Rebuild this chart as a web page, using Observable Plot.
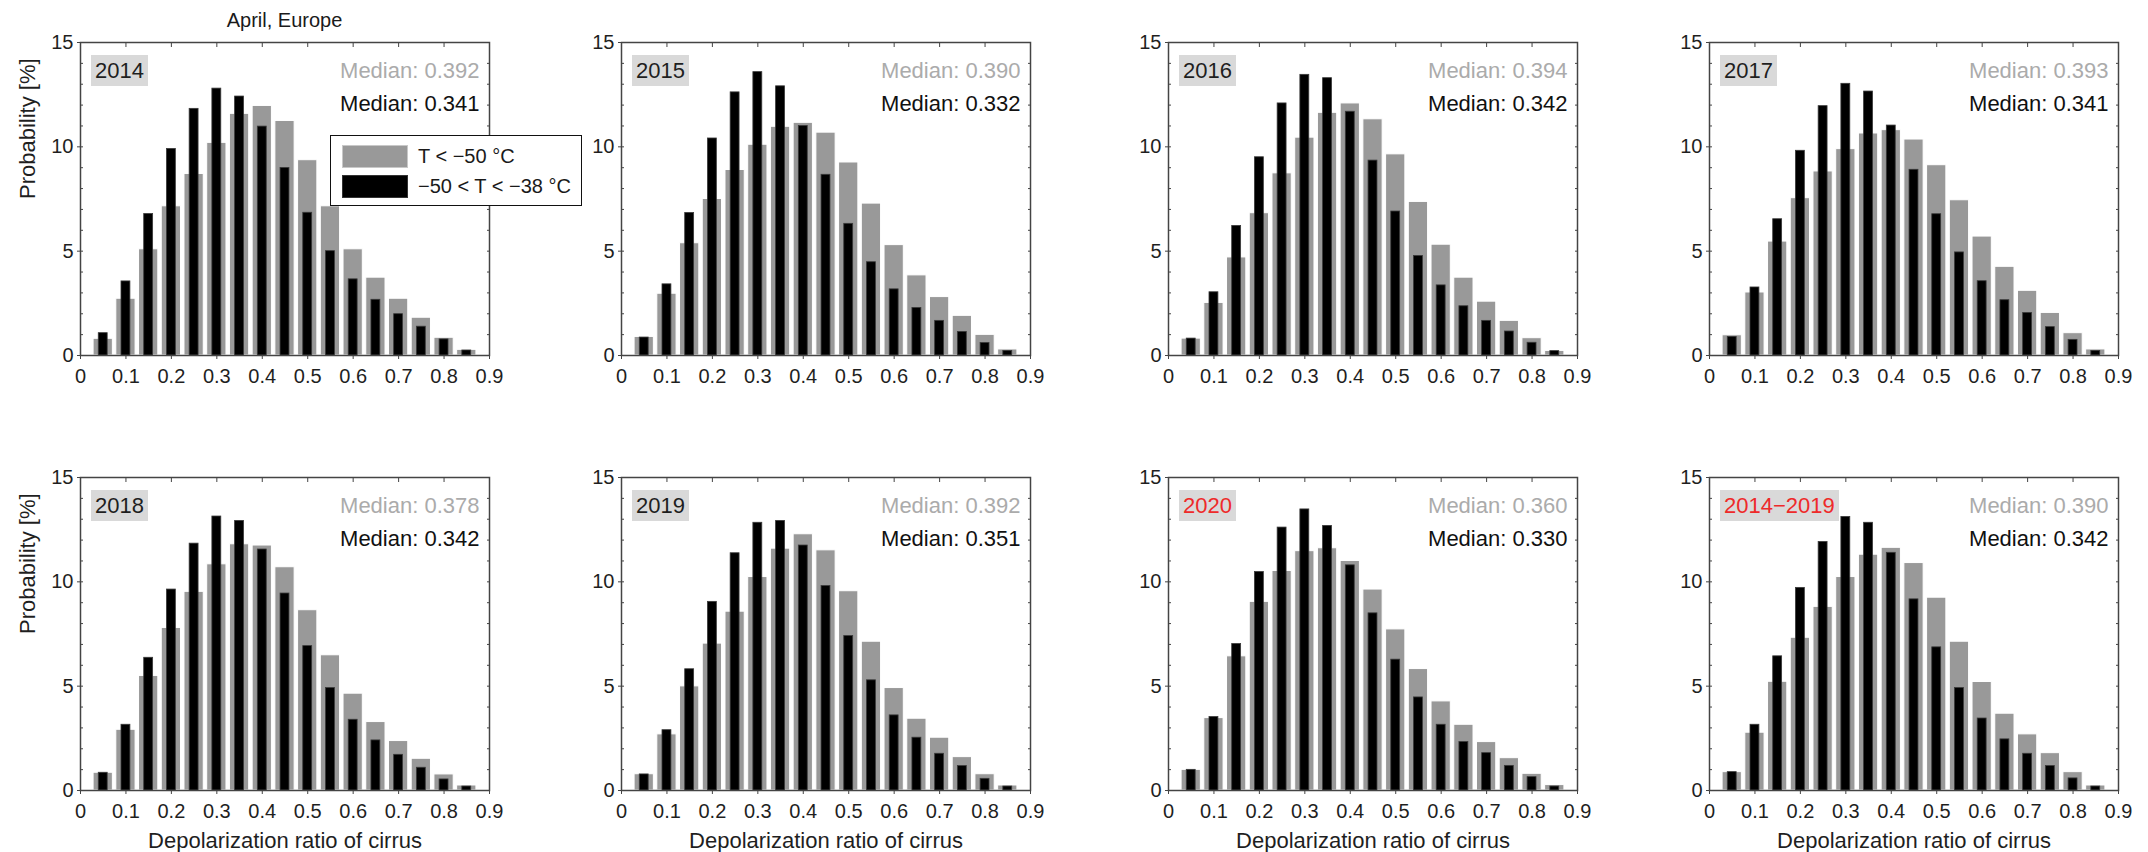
<!DOCTYPE html>
<html>
<head>
<meta charset="utf-8">
<script src="https://cdn.jsdelivr.net/npm/d3@7"></script>
<script src="https://cdn.jsdelivr.net/npm/@observablehq/plot@0.6"></script>
<style>
html, body { margin: 0; padding: 0; background: #fff; }
#root { position: relative; width: 2148px; height: 852px; overflow: hidden;
  font-family: "Liberation Sans", Arial, sans-serif; color: #1a1a1a; }
.abs { position: absolute; }
.yearbox { position: absolute; height: 31px; line-height: 31px; padding: 0 4px; font-size: 22px; background: #d9d9d9; white-space: nowrap; }
.legend { position: absolute; box-sizing: border-box; background: #fff; border: 1.5px solid #111; padding: 5px 11px; }
.legrow { display: flex; align-items: center; height: 30px; font-size: 20px; white-space: nowrap; }
.sw { width: 66px; height: 23px; margin-right: 10px; box-sizing: border-box; flex: none; }
</style>
</head>
<body>
<div id="root"></div>
<script>
// ---------- data ----------
const binCenters = [0.05, 0.10, 0.15, 0.20, 0.25, 0.30, 0.35, 0.40, 0.45, 0.50, 0.55, 0.60, 0.65, 0.70, 0.75, 0.80, 0.85];
const xTicks = [0, 0.1, 0.2, 0.3, 0.4, 0.5, 0.6, 0.7, 0.8, 0.9];
const yTicks = [0, 5, 10, 15];
const yMinorTicks = [0, 1, 2, 3, 4, 5, 6, 7, 8, 9, 10, 11, 12, 13, 14, 15];

const panelLabels = ["2014", "2015", "2016", "2017", "2018", "2019", "2020", "2014\u22122019"];
const labelIsRed = [false, false, false, false, false, false, true, true];
const medianCold = ["0.392", "0.390", "0.394", "0.393", "0.378", "0.392", "0.360", "0.390"];
const medianWarm = ["0.341", "0.332", "0.342", "0.341", "0.342", "0.351", "0.330", "0.342"];

// T < -50 °C (grey)
const cold2014 = [0.80, 2.72, 5.09, 7.15, 8.70, 10.19, 11.58, 11.96, 11.24, 9.36, 7.15, 5.09, 3.73, 2.72, 1.81, 0.85, 0.27];
const cold2015 = [0.89, 2.96, 5.38, 7.50, 8.89, 10.10, 10.96, 11.15, 10.68, 9.25, 7.28, 5.29, 3.84, 2.80, 1.90, 0.99, 0.29];
const cold2016 = [0.81, 2.52, 4.70, 6.82, 8.73, 10.44, 11.63, 12.08, 11.32, 9.64, 7.36, 5.31, 3.73, 2.58, 1.66, 0.83, 0.22];
const cold2017 = [0.97, 3.02, 5.46, 7.54, 8.82, 9.89, 10.64, 10.80, 10.35, 9.12, 7.44, 5.70, 4.25, 3.10, 2.04, 1.07, 0.29];
const cold2018 = [0.85, 2.91, 5.49, 7.79, 9.52, 10.84, 11.80, 11.74, 10.70, 8.64, 6.48, 4.64, 3.28, 2.37, 1.52, 0.77, 0.24];
const cold2019 = [0.78, 2.69, 4.99, 7.04, 8.57, 10.23, 11.59, 12.28, 11.51, 9.55, 7.13, 4.91, 3.44, 2.53, 1.60, 0.78, 0.24];
const cold2020 = [0.99, 3.47, 6.43, 9.04, 10.52, 11.47, 11.61, 11.00, 9.63, 7.72, 5.82, 4.27, 3.15, 2.32, 1.55, 0.80, 0.26];
const coldAll  = [0.88, 2.77, 5.21, 7.32, 8.80, 10.23, 11.30, 11.63, 10.90, 9.24, 7.13, 5.20, 3.68, 2.69, 1.79, 0.88, 0.24];

// -50 < T < -38 °C (black)
const warm2014 = [1.07, 3.55, 6.78, 9.90, 11.82, 12.79, 12.41, 10.97, 8.99, 6.84, 5.00, 3.65, 2.67, 1.98, 1.38, 0.77, 0.24];
const warm2015 = [0.86, 3.41, 6.83, 10.40, 12.61, 13.58, 12.90, 11.00, 8.66, 6.31, 4.47, 3.17, 2.28, 1.66, 1.13, 0.60, 0.22];
const warm2016 = [0.81, 3.03, 6.21, 9.50, 12.08, 13.45, 13.29, 11.68, 9.34, 6.90, 4.77, 3.36, 2.36, 1.66, 1.15, 0.61, 0.21];
const warm2017 = [0.89, 3.26, 6.53, 9.81, 11.95, 13.02, 12.65, 11.02, 8.90, 6.77, 4.94, 3.56, 2.65, 2.04, 1.36, 0.75, 0.22];
const warm2018 = [0.85, 3.15, 6.36, 9.63, 11.83, 13.13, 12.92, 11.55, 9.44, 6.92, 4.91, 3.39, 2.40, 1.71, 1.09, 0.53, 0.19];
const warm2019 = [0.77, 2.89, 5.81, 9.04, 11.37, 12.83, 12.92, 11.74, 9.80, 7.40, 5.28, 3.60, 2.53, 1.76, 1.17, 0.56, 0.19];
const warm2020 = [0.99, 3.52, 7.02, 10.47, 12.60, 13.47, 12.68, 10.79, 8.49, 6.27, 4.46, 3.15, 2.32, 1.79, 1.18, 0.64, 0.19];
const warmAll  = [0.88, 3.15, 6.43, 9.71, 11.91, 13.11, 12.83, 11.39, 9.16, 6.86, 4.91, 3.45, 2.45, 1.76, 1.17, 0.58, 0.19];

const coldSeries = [cold2014, cold2015, cold2016, cold2017, cold2018, cold2019, cold2020, coldAll];
const warmSeries = [warm2014, warm2015, warm2016, warm2017, warm2018, warm2019, warm2020, warmAll];

const titleText = "April, Europe";
const yLabel = "Probability [%]";
const xLabel = "Depolarization ratio of cirrus";
const legendCold = "T < \u221250 \u00B0C";
const legendWarm = "\u221250 < T < \u221238 \u00B0C";

// ---------- layout ----------
const colLeft = [80, 621, 1168, 1709];
const colRight = [489, 1030, 1577, 2118];
const rowTop = [42, 477];
const rowBottom = [355, 790];
const mL = 70, mR = 16, mT = 14, mB = 62;

const root = document.getElementById("root");
const textColor = "#1f1f1f";

for (let i = 0; i < 8; i++) {
  const col = i % 4, row = Math.floor(i / 4);
  const AL = colLeft[col], AR = colRight[col], AT = rowTop[row], AB = rowBottom[row];
  const rows = binCenters.map((c, k) => ({x: c, cold: coldSeries[i][k], warm: warmSeries[i][k]}));

  const marks = [
    Plot.rectY(rows, {x1: d => d.x - 0.0212, x2: d => d.x + 0.0212, y: "cold", fill: "#999999", stroke: "#ffffff", strokeWidth: 1}),
    Plot.rectY(rows, {x1: d => d.x - 0.0098, x2: d => d.x + 0.0098, y: "warm", fill: "#000000", stroke: "#3a3a3a", strokeWidth: 0.8}),
    Plot.frame({stroke: "#444", strokeWidth: 1.5}),
    Plot.axisX(xTicks, {anchor: "bottom", tickSize: 0, tickPadding: 13, tickFormat: d => String(d), fontSize: 20, label: null}),
    Plot.axisX(xTicks, {anchor: "bottom", tickSize: 4, tickFormat: () => "", label: null, stroke: "#444"}),
    Plot.axisX(xTicks, {anchor: "top", tickSize: -4, tickFormat: () => "", label: null, stroke: "#444"}),
    Plot.axisY(yTicks, {anchor: "left", tickSize: 0, tickPadding: 7, fontSize: 20, label: null}),
    Plot.axisY(yMinorTicks, {anchor: "left", tickSize: -3, tickFormat: () => "", label: null, stroke: "#444"}),
    Plot.axisY(yTicks, {anchor: "left", tickSize: 3, tickFormat: () => "", label: null, stroke: "#444"}),
    Plot.axisY(yMinorTicks, {anchor: "right", tickSize: -3, tickFormat: () => "", label: null, stroke: "#444"}),
    Plot.text([medianCold[i]], {text: d => "Median: " + d, frameAnchor: "top-right", textAnchor: "end", lineAnchor: "top", dx: -10, dy: 20, fill: "#ababab", fontSize: 22}),
    Plot.text([medianWarm[i]], {text: d => "Median: " + d, frameAnchor: "top-right", textAnchor: "end", lineAnchor: "top", dx: -10, dy: 53, fill: "#111", fontSize: 22})
  ];
  if (col === 0) {
    marks.push(Plot.text([yLabel], {text: d => d, frameAnchor: "left", rotate: -90, dx: -53, fontSize: 22, fill: textColor}));
  }
  if (row === 1) {
    marks.push(Plot.text([xLabel], {text: d => d, frameAnchor: "bottom", lineAnchor: "top", dy: 42, fontSize: 22, fill: textColor}));
  }

  const svg = Plot.plot({
    width: AR - AL + mL + mR,
    height: AB - AT + mT + mB,
    marginLeft: mL, marginRight: mR, marginTop: mT, marginBottom: mB,
    x: {domain: [0, 0.9]},
    y: {domain: [0, 15]},
    style: {fontFamily: "'Liberation Sans', Arial, sans-serif", color: textColor, background: "transparent", overflow: "visible"},
    marks
  });
  svg.style.position = "absolute";
  svg.style.left = (AL - mL) + "px";
  svg.style.top = (AT - mT) + "px";
  root.appendChild(svg);

  const yb = document.createElement("div");
  yb.className = "yearbox";
  yb.textContent = panelLabels[i];
  yb.style.left = (AL + 11) + "px";
  yb.style.top = (AT + 13) + "px";
  yb.style.color = labelIsRed[i] ? "#ee2a2a" : "#1f1f1f";
  root.appendChild(yb);
}

// title
const t = document.createElement("div");
t.className = "abs";
t.textContent = titleText;
t.style.cssText += "left:" + ((colLeft[0] + colRight[0]) / 2) + "px;top:10px;transform:translateX(-50%);font-size:20px;line-height:20px;white-space:nowrap;";
root.appendChild(t);

// legend
const lg = document.createElement("div");
lg.className = "legend";
lg.style.left = "330px"; lg.style.top = "135px"; lg.style.width = "252px"; lg.style.height = "71px";
lg.innerHTML =
  `<div class="legrow"><div class="sw" style="background:#999;border:1px solid #c8c8c8"></div><span>${legendCold}</span></div>` +
  `<div class="legrow"><div class="sw" style="background:#000;border:1px solid #333"></div><span>${legendWarm}</span></div>`;
root.appendChild(lg);
</script>
</body>
</html>
